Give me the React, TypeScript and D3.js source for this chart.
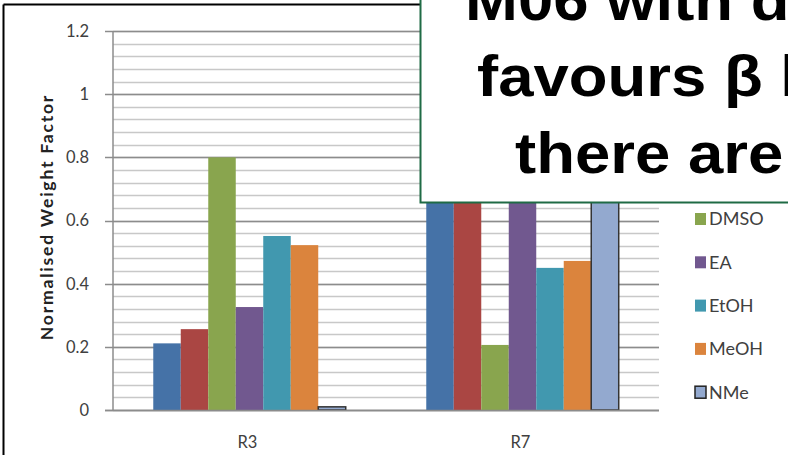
import React from "react";
import * as d3 from "d3";

const categories = ["R3", "R7"];
const seriesNames = ["ACN", "DCM", "DMSO", "EA", "EtOH", "MeOH", "NMe"];
const seriesColors = ["#4572A7", "#AA4643", "#89A54E", "#71588F", "#4198AF", "#DB843D", "#93A9CF"];
const valuesR3 = [0.211, 0.256, 0.8, 0.326, 0.551, 0.522, 0.01];
const valuesR7 = [0.9, 0.85, 0.206, 0.95, 0.45, 0.472, 0.75];
const yTickLabels = ["0", "0.2", "0.4", "0.6", "0.8", "1", "1.2"];
const yTickValues = [0, 0.2, 0.4, 0.6, 0.8, 1, 1.2];
const boxLines = ["M06 with dispersion", "favours β linkage,", "there are"];

const W = 788;
const H = 455;

export default function App() {
  const left = 113;
  const right = 659;
  const top = 31;
  const bottom = 410;

  const x0 = d3.scaleBand<string>().domain(categories).range([left, right]).paddingInner(0.295).paddingOuter(0.1475);
  const x1 = d3.scaleBand<string>().domain(seriesNames).range([0, x0.bandwidth()]);
  const y = d3.scaleLinear().domain([0, 1.2]).range([bottom, top]);
  const minor = d3.range(0, 31).map((i) => +(i * 0.04).toFixed(2));
  const data = [valuesR3, valuesR7];

  const font = "Lato, 'Open Sans', sans-serif";
  const boxFont = "'Liberation Sans', Arial, sans-serif";
  const legendX = 695;
  const legendY0 = 219;
  const legendStep = 43.3;
  const boxX = [465, 477, 515];
  const boxY = [20, 96, 173];

  return (
    <svg width={W} height={H} style={{ position: "absolute", left: 0, top: 0, background: "#fff" }}>
      <rect x={0} y={0} width={W} height={H} fill="#fff" />
      {/* outer chart border */}
      <line x1={3.5} y1={4.5} x2={W} y2={4.5} stroke="#000" strokeWidth={2} />
      <line x1={3.5} y1={4.5} x2={3.5} y2={H} stroke="#000" strokeWidth={2} />

      {/* minor gridlines */}
      {minor.map((v) => (
        <line key={"m" + v} x1={left} x2={right} y1={Math.round(y(v)) + 0.5} y2={Math.round(y(v)) + 0.5} stroke="#c8c8c8" strokeWidth={1.3} />
      ))}
      {/* major gridlines */}
      {yTickValues.map((v) => (
        <line key={"M" + v} x1={105} x2={right} y1={Math.round(y(v)) + 0.5} y2={Math.round(y(v)) + 0.5} stroke="#8c8c8c" strokeWidth={1.3} />
      ))}

      {/* bars */}
      {categories.map((c, ci) => (
        <g key={c}>
          {seriesNames.map((s, si) => {
            const v = data[ci][si];
            const isN = s === "NMe";
            return (
              <rect
                key={s}
                x={(x0(c) as number) + (x1(s) as number)}
                y={y(v)}
                width={x1.bandwidth()}
                height={bottom - y(v)}
                fill={seriesColors[si]}
                stroke={isN ? "#333" : "none"}
                strokeWidth={isN ? 1.5 : 0}
              />
            );
          })}
        </g>
      ))}

      {/* axes */}
      <line x1={left} x2={left} y1={top} y2={bottom} stroke="#8c8c8c" strokeWidth={1.5} />
      <line x1={105} x2={right} y1={bottom + 0.5} y2={bottom + 0.5} stroke="#8c8c8c" strokeWidth={1.5} />

      {yTickValues.map((v, i) => (
        <text key={"t" + v} x={89} y={y(v)} dy="0.36em" textAnchor="end" fontFamily={font} fontSize={16.5} fill="#404040">
          {yTickLabels[i]}
        </text>
      ))}
      {categories.map((c) => (
        <text key={"x" + c} x={(x0(c) as number) + x0.bandwidth() / 2 - 2} y={442} dy="0.36em" textAnchor="middle" fontFamily={font} fontSize={16.5} fill="#404040">
          {c}
        </text>
      ))}
      <text
        transform={`translate(53,217) rotate(-90)`}
        textAnchor="middle"
        fontFamily={font}
        fontWeight="bold"
        fontSize={17.5}
        letterSpacing={1.8}
        fill="#222"
      >
        Normalised Weight Factor
      </text>

      {/* legend */}
      {seriesNames.map((s, i) => {
        const cy = legendY0 + (i - 2) * legendStep;
        const isN = s === "NMe";
        return (
          <g key={"l" + s}>
            <rect
              x={legendX}
              y={cy - 6}
              width={11}
              height={12}
              fill={seriesColors[i]}
              stroke={isN ? "#222" : "none"}
              strokeWidth={isN ? 1.5 : 0}
            />
            <text x={legendX + 14} y={cy} dy="0.36em" fontFamily={font} fontSize={18} fill="#404040">
              {s}
            </text>
          </g>
        );
      })}

      {/* overlay text box */}
      <rect x={420.5} y={-10} width={W} height={212.5} fill="#fff" stroke="#1f6b45" strokeWidth={2} />
      {boxLines.map((t, i) => (
        <text
          key={"b" + i}
          transform={`translate(${boxX[i]},${boxY[i]}) scale(1.095,1)`}
          fontFamily={boxFont}
          fontWeight="bold"
          fontSize={58}
          fill="#000"
        >
          {t}
        </text>
      ))}
    </svg>
  );
}
